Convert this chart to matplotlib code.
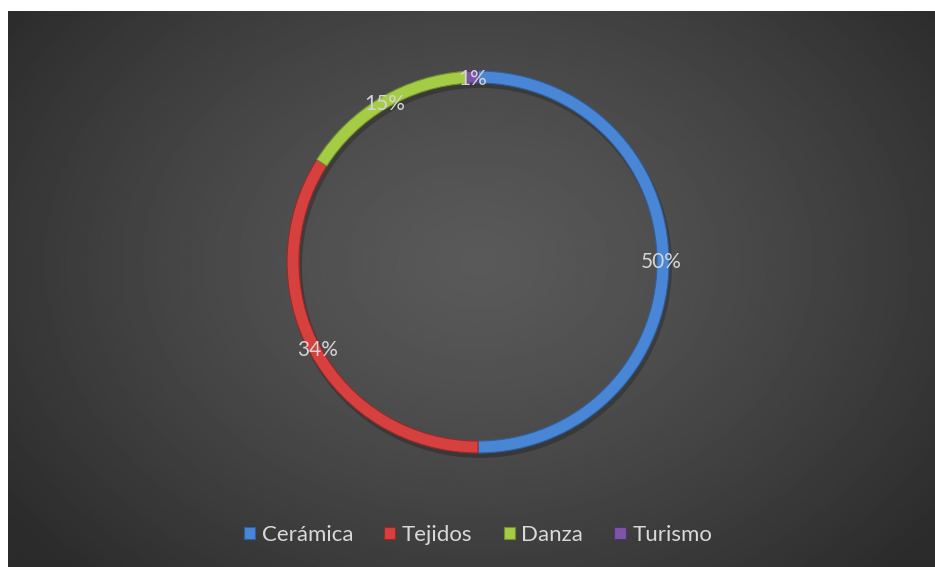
import numpy as np
import matplotlib.pyplot as plt
from matplotlib.patches import Patch

# data
categories = ['Cerámica', 'Tejidos', 'Danza', 'Turismo']
shares = [50, 34, 15, 1]
colors = ['#4a86d6', '#d6403e', '#a4cc45', '#7d55a8']
edge_colors = ['#2f5f9e', '#962a28', '#6f8f2c', '#4f3570']

W, H = 935, 567
fig = plt.figure(figsize=(W / 100, H / 100), dpi=100)
fig.patch.set_facecolor('white')

# dark panel with a radial gradient (white margin on top and left)
ax = fig.add_axes([0, 0, 1, 1])
ax.set_xlim(0, W)
ax.set_ylim(0, H)
ax.axis('off')

x0, y0 = 8, 0
x1, y1 = W, H - 11
gx, gy = np.meshgrid(np.linspace(x0, x1, 400), np.linspace(y0, y1, 250))
cx, cy = 478, H - 262
d = np.sqrt(((gx - cx) / 580) ** 2 + ((gy - cy) / 440) ** 2)
shade = 0.35 - 0.18 * np.clip(d, 0, 1) ** 1.3
ax.imshow(shade, cmap='gray', vmin=0, vmax=1, extent=(x0, x1, y0, y1),
          origin='lower', aspect='auto', zorder=0, interpolation='bilinear')

# soft shadow under the ring
shadow = plt.Circle((cx + 2, cy - 4), 185, fill=False, lw=10,
                    color='black', alpha=0.22, zorder=1)
ax.add_patch(shadow)

R = 191
wedges, texts, autotexts = ax.pie(
    shares, colors=colors, startangle=90, counterclock=False,
    center=(cx, cy), radius=R, autopct='%1.0f%%', pctdistance=0.96,
    wedgeprops=dict(width=12, edgecolor='none'),
    textprops=dict(color='#d4d4d4', fontsize=15, family=['Lato', 'DejaVu Sans']))
for w, ec in zip(wedges, edge_colors):
    w.set_zorder(2)
    w.set_edgecolor(ec)
    w.set_linewidth(0.8)
for t in autotexts:
    t.set_zorder(3)

ax.set_xlim(0, W)
ax.set_ylim(0, H)
ax.set_aspect('auto')
ax.axis('off')

handles = [Patch(facecolor=c, edgecolor=e, linewidth=0.8) for c, e in zip(colors, edge_colors)]
leg = fig.legend(handles, categories, loc='center', bbox_to_anchor=(478 / W, 1 - 535 / H),
                 ncol=4, frameon=False, handlelength=0.5, handleheight=0.5,
                 handletextpad=0.3, columnspacing=1.4,
                 prop=dict(family=['Lato', 'DejaVu Sans'], size=16))
for t in leg.get_texts():
    t.set_color('#d9d9d9')

fig.savefig('out.png', dpi=100, facecolor='white')
